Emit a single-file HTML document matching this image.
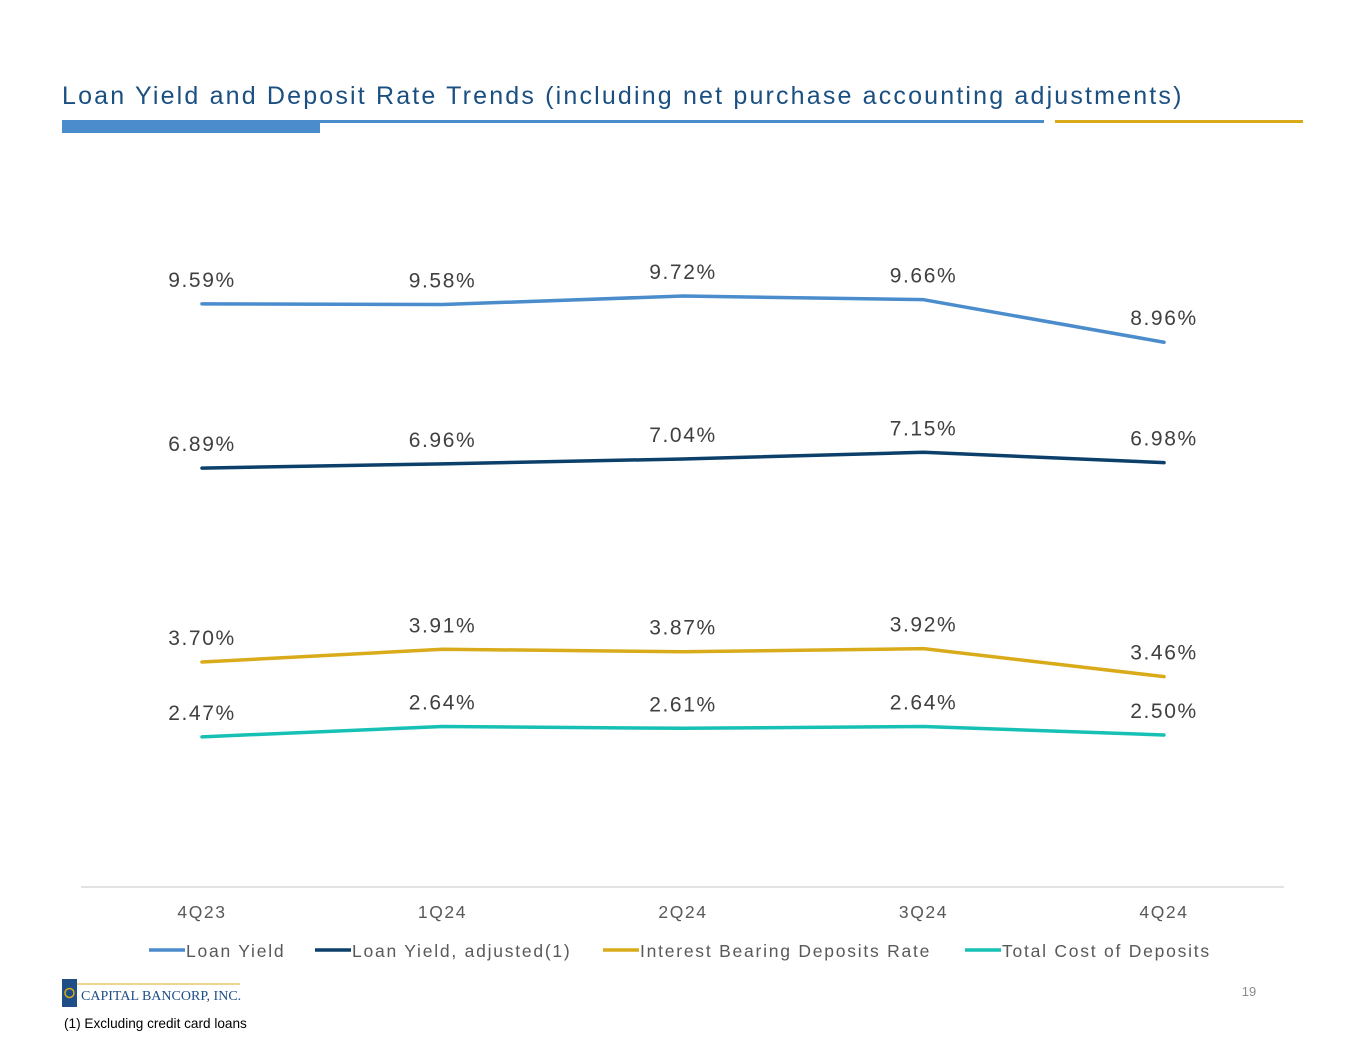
<!DOCTYPE html>
<html><head><meta charset="utf-8">
<style>
html,body{margin:0;padding:0;background:#fff;}
body{width:1365px;height:1055px;position:relative;overflow:hidden;font-family:"Liberation Sans",sans-serif;}
#title{position:absolute;left:62px;top:82px;font-size:25px;color:#1a4f82;letter-spacing:2.17px;white-space:nowrap;}
</style></head><body>
<div id="title">Loan Yield and Deposit Rate Trends (including net purchase accounting adjustments)</div>
<svg width="1365" height="1055" style="position:absolute;left:0;top:0">
  <rect x="62" y="120" width="258" height="13" fill="#4a8ccc"/>
  <rect x="62" y="120" width="982" height="3" fill="#4a8ccc"/>
  <rect x="1055" y="120" width="248" height="3" fill="#d9ab1a"/>
  <line x1="81" y1="887" x2="1284" y2="887" stroke="#d9d9d9" stroke-width="1.5"/>
  <g id="chart"></g>
  <g id="legend"></g>
  <g>
    <rect x="62" y="979" width="15" height="28" fill="#1f4e87"/>
    <circle cx="69.5" cy="993" r="4.5" fill="none" stroke="#d9ab1a" stroke-width="1.5"/>
    <line x1="77" y1="984" x2="240" y2="984" stroke="#d9ab1a" stroke-width="1"/>
    <text x="81" y="1000" font-family="Liberation Serif, serif" font-size="14" fill="#1f4e87">CAPITAL BANCORP, INC.</text>
  </g>
  <text x="1249" y="996" font-size="13" fill="#8c8c8c" text-anchor="middle">19</text>
  <text x="64" y="1028" font-size="13.6" fill="#000">(1) Excluding credit card loans</text>
</svg>
<script>
const categories=["4Q23","1Q24","2Q24","3Q24","4Q24"];
const loanYield=[9.59,9.58,9.72,9.66,8.96];
const loanYieldAdj=[6.89,6.96,7.04,7.15,6.98];
const ibDepositsRate=[3.70,3.91,3.87,3.92,3.46];
const totalCostDeposits=[2.47,2.64,2.61,2.64,2.50];
const seriesNames=["Loan Yield","Loan Yield, adjusted(1)","Interest Bearing Deposits Rate","Total Cost of Deposits"];
const seriesColors=["#4a8ccc","#0d3f6b","#d9ab1a","#17c0b4"];
const seriesData=[loanYield,loanYieldAdj,ibDepositsRate,totalCostDeposits];

const NS="http://www.w3.org/2000/svg";
const xScale=i=>202+i*240.5;
const yScale=v=>887-v*60.8;
const chart=document.getElementById('chart');
function mk(tag,attrs,parent){const e=document.createElementNS(NS,tag);for(const k in attrs)e.setAttribute(k,attrs[k]);parent.appendChild(e);return e;}

categories.forEach((c,i)=>{
  const t=mk('text',{x:xScale(i),y:918,'text-anchor':'middle','font-size':17.5,fill:'#595959','letter-spacing':1.6},chart);
  t.textContent=c;
  
  
});

seriesData.forEach((arr,s)=>{
  const p=mk('polyline',{points:arr.map((v,i)=>xScale(i)+','+yScale(v)).join(' '),fill:'none',stroke:seriesColors[s],'stroke-width':3.5,'stroke-linejoin':'round','stroke-linecap':'round'},chart);
  
  
  arr.forEach((v,i)=>{
    const t=mk('text',{x:xScale(i),y:yScale(v)-17,'text-anchor':'middle','font-size':21,fill:'#404040','letter-spacing':1.6},chart);
    t.textContent=v.toFixed(2)+'%';
    
    
  });
});

const legend=document.getElementById('legend');
const legX=[149,315,603,965];
seriesNames.forEach((n,s)=>{
  const g=mk('g',{},legend);
  
  
  mk('line',{x1:legX[s],y1:950,x2:legX[s]+36,y2:950,stroke:seriesColors[s],'stroke-width':3.5},g);
  const t=mk('text',{x:legX[s]+37,y:957,'font-size':17.5,fill:'#595959','letter-spacing':1.76},g);
  t.textContent=n;
});
</script>
</body></html>
